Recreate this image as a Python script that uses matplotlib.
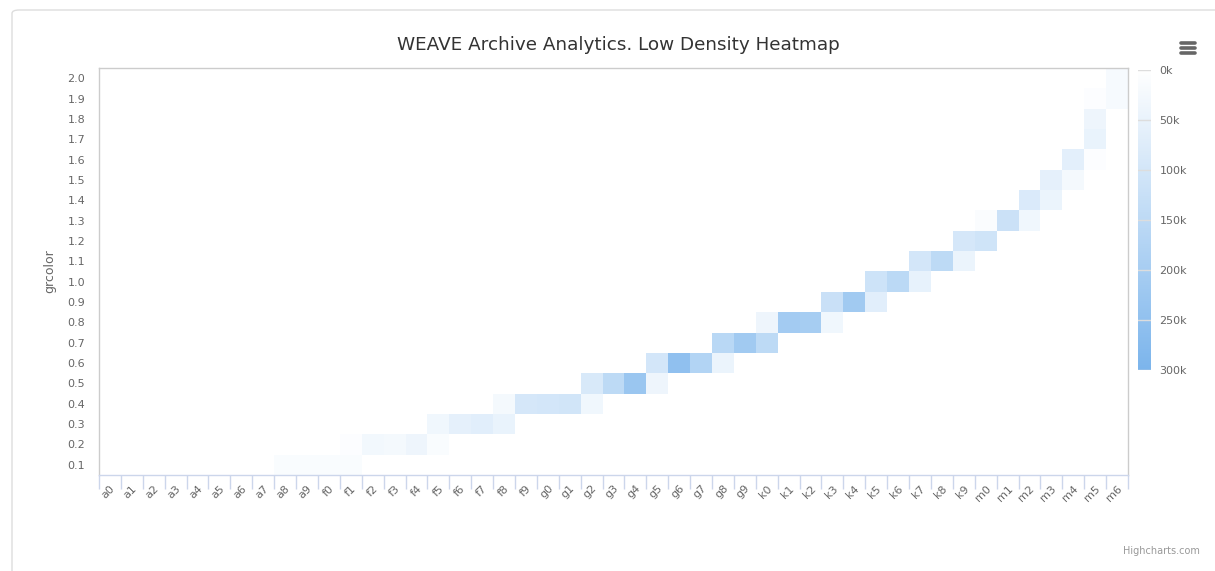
import numpy as np
import matplotlib
matplotlib.use("Agg")
import matplotlib.pyplot as plt
from matplotlib.colors import LinearSegmentedColormap
from matplotlib.patches import FancyBboxPatch
from matplotlib.lines import Line2D

# ---------------- data ----------------
x_categories = ([f"a{i}" for i in range(10)] + [f"f{i}" for i in range(10)] +
                [f"g{i}" for i in range(10)] + [f"k{i}" for i in range(10)] +
                [f"m{i}" for i in range(7)])
y_values = [round(0.1 * i, 1) for i in range(1, 21)]

cell_x = ["a8", "a9", "f0", "f1",
          "f1", "f2", "f3", "f4", "f5",
          "f5", "f6", "f7", "f8",
          "f8", "f9", "g0", "g1", "g2",
          "g2", "g3", "g4", "g5",
          "g5", "g6", "g7", "g8",
          "g8", "g9", "k0",
          "k0", "k1", "k2", "k3",
          "k3", "k4", "k5",
          "k5", "k6", "k7",
          "k7", "k8", "k9",
          "k9", "m0",
          "m0", "m1", "m2",
          "m2", "m3",
          "m3", "m4",
          "m4", "m5",
          "m5",
          "m5",
          "m5", "m6",
          "m6"]
cell_y = [0.1, 0.1, 0.1, 0.1,
          0.2, 0.2, 0.2, 0.2, 0.2,
          0.3, 0.3, 0.3, 0.3,
          0.4, 0.4, 0.4, 0.4, 0.4,
          0.5, 0.5, 0.5, 0.5,
          0.6, 0.6, 0.6, 0.6,
          0.7, 0.7, 0.7,
          0.8, 0.8, 0.8, 0.8,
          0.9, 0.9, 0.9,
          1.0, 1.0, 1.0,
          1.1, 1.1, 1.1,
          1.2, 1.2,
          1.3, 1.3, 1.3,
          1.4, 1.4,
          1.5, 1.5,
          1.6, 1.6,
          1.7,
          1.8,
          1.9, 1.9,
          2.0]
cell_value = [14000, 15000, 15000, 15000,
              8000, 30000, 25000, 40000, 15000,
              35000, 60000, 70000, 50000,
              25000, 95000, 100000, 105000, 35000,
              90000, 150000, 230000, 40000,
              100000, 255000, 175000, 45000,
              160000, 215000, 150000,
              40000, 210000, 205000, 35000,
              125000, 215000, 70000,
              115000, 155000, 55000,
              100000, 150000, 45000,
              95000, 110000,
              12000, 120000, 35000,
              85000, 45000,
              60000, 25000,
              65000, 8000,
              50000,
              40000,
              8000, 20000,
              20000]

color_ticks = [0, 50000, 100000, 150000, 200000, 250000, 300000]
color_tick_labels = ["0k", "50k", "100k", "150k", "200k", "250k", "300k"]

# ---------------- figure ----------------
W, H = 1215, 571
fig = plt.figure(figsize=(W / 100, H / 100), dpi=100)
fig.patch.set_facecolor("white")

def fx(px):
    return px / W

def fy(py):
    return 1 - py / H

# outer frame
frame = FancyBboxPatch((fx(12), fy(575)), fx(1215), 575 / H - 10 / H,
                       boxstyle="round,pad=0,rounding_size=0.006",
                       transform=fig.transFigure, facecolor="none",
                       edgecolor="#dddddd", linewidth=1.0, zorder=0)
fig.patches.append(frame)

L, R, T, B = 99, 1128, 68, 475
ax = fig.add_axes([fx(L), fy(B), fx(R - L), (B - T) / H])

cmap = LinearSegmentedColormap.from_list("hc", ["#ffffff", "#7cb5ec"])
vmin, vmax = 0, 300000

grid = np.full((len(y_values), len(x_categories)), np.nan)
for cx, cy, cv in zip(cell_x, cell_y, cell_value):
    grid[y_values.index(cy), x_categories.index(cx)] = cv

x_edges = np.arange(len(x_categories) + 1) - 0.5
y_edges = np.array([y_values[0] - 0.05] + [v + 0.05 for v in y_values])
ax.pcolormesh(x_edges, y_edges, np.ma.masked_invalid(grid), cmap=cmap,
              vmin=vmin, vmax=vmax, shading="flat")

ax.set_xlim(x_edges[0], x_edges[-1])
ax.set_ylim(y_edges[0], y_edges[-1])

for s in ["top", "right", "left"]:
    ax.spines[s].set_color("#cccccc")
    ax.spines[s].set_linewidth(1.0)
ax.spines["bottom"].set_color("#ccd6eb")
ax.spines["bottom"].set_linewidth(1.0)

ax.set_xticks(np.arange(len(x_categories)))
ax.set_xticklabels(x_categories, rotation=45, ha="right", va="top",
                   rotation_mode="anchor", fontsize=8, color="#666666")
ax.tick_params(axis="x", length=0, pad=6)
ax.set_xticks(x_edges, minor=True)
ax.tick_params(axis="x", which="minor", length=10, color="#ccd6eb", width=1,
               direction="out")

ax.set_yticks(y_values)
ax.set_yticklabels([f"{v:.1f}" for v in y_values], fontsize=8, color="#666666")
ax.tick_params(axis="y", length=0, pad=10)
ax.set_ylabel("grcolor", fontsize=9, color="#666666", labelpad=8)

fig.text(fx(618), fy(45), "WEAVE Archive Analytics. Low Density Heatmap",
         ha="center", va="center", fontsize=13.2, color="#333333")

# colour axis
cax = fig.add_axes([fx(1138), fy(370), fx(13), 300 / H])
grad = np.linspace(vmin, vmax, 256).reshape(-1, 1)
cax.imshow(grad, aspect="auto", cmap=cmap, vmin=vmin, vmax=vmax,
           extent=[0, 1, vmax, vmin], origin="upper")
cax.set_xlim(0, 1)
cax.set_ylim(vmax, vmin)
for t in color_ticks:
    cax.axhline(t, color="#dddddd", linewidth=1.0)
for s in cax.spines.values():
    s.set_visible(False)
cax.set_xticks([])
cax.yaxis.tick_right()
cax.set_yticks(color_ticks)
cax.set_yticklabels(color_tick_labels, fontsize=8, color="#666666")
cax.tick_params(axis="y", length=0, pad=6)

# export menu icon
for yy in (43, 48, 53):
    fig.add_artist(Line2D([fx(1181), fx(1195)], [fy(yy), fy(yy)],
                          color="#666666", linewidth=2.6,
                          solid_capstyle="round",
                          transform=fig.transFigure))

fig.text(fx(1200), fy(551), "Highcharts.com", ha="right", va="center",
         fontsize=7, color="#999999")

fig.savefig("out.png", dpi=100)
